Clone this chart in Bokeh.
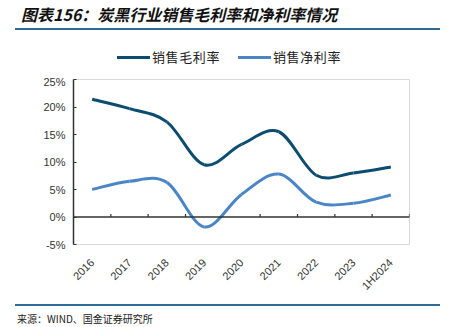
import math
from bokeh.plotting import figure
from bokeh.models import Range1d, FixedTicker, PrintfTickFormatter, Div, Span
from bokeh.layouts import column
from bokeh.embed import file_html
from bokeh.resources import INLINE

categories = ["2016", "2017", "2018", "2019", "2020", "2021", "2022", "2023", "1H2024"]
gross_margin = [21.4, 19.7, 17.3, 9.5, 13.2, 15.5, 7.6, 8.0, 9.1]
net_margin = [5.0, 6.5, 6.3, -1.8, 4.1, 7.8, 2.7, 2.5, 4.0]
y_ticks = [-5, 0, 5, 10, 15, 20, 25]
series_names = ["销售毛利率", "销售净利率"]
title_text = "图表156：炭黑行业销售毛利率和净利率情况"
source_text = "来源：WIND、国金证券研究所"

GROSS_COLOR = "#0b4d70"
NET_COLOR = "#4a86c6"
AXIS_COLOR = "#333333"


def bezier_segments(ys):
    xs = list(range(len(ys)))
    n = len(xs)
    out = {k: [] for k in ["x0", "y0", "x1", "y1", "cx0", "cy0", "cx1", "cy1"]}
    for i in range(n - 1):
        a = max(i - 1, 0)
        d = min(i + 2, n - 1)
        out["x0"].append(xs[i]); out["y0"].append(ys[i])
        out["x1"].append(xs[i + 1]); out["y1"].append(ys[i + 1])
        out["cx0"].append(xs[i] + (xs[i + 1] - xs[a]) / 6)
        out["cy0"].append(ys[i] + (ys[i + 1] - ys[a]) / 6)
        out["cx1"].append(xs[i + 1] - (xs[d] - xs[i]) / 6)
        out["cy1"].append(ys[i + 1] - (ys[d] - ys[i]) / 6)
    return out


TOP_H = 75
p = figure(width=454, height=300 - TOP_H, output_backend="svg", toolbar_location=None,
           x_range=Range1d(-0.5, len(categories) - 0.5), y_range=Range1d(y_ticks[0], y_ticks[-1]),
           min_border_left=73, min_border_right=45, min_border_top=79 - TOP_H, min_border_bottom=56)
p.background_fill_color = "white"
p.border_fill_color = "white"
p.outline_line_color = "#d9d9d9"
p.outline_line_width = 1
p.xgrid.visible = False
p.ygrid.visible = False

# zero line and category boundary ticks
p.add_layout(Span(location=0, dimension="width", line_color=AXIS_COLOR, line_width=1.5))
bounds = [i - 0.5 for i in range(len(categories) + 1)]
p.ray(x=bounds, y=[0] * len(bounds), length=3, length_units="screen", angle=math.pi / 2,
      line_color=AXIS_COLOR, line_width=1.2)

g = bezier_segments(gross_margin)
nt = bezier_segments(net_margin)
p.bezier(line_color=GROSS_COLOR, line_width=3, **g)
p.bezier(line_color=NET_COLOR, line_width=3, **nt)

# y axis
ya = p.yaxis[0]
ya.ticker = FixedTicker(ticks=y_ticks)
ya.formatter = PrintfTickFormatter(format="%d%%")
ya.axis_line_color = AXIS_COLOR
ya.axis_line_width = 1.5
ya.major_tick_in = 3
ya.major_tick_out = 0
ya.major_tick_line_color = AXIS_COLOR
ya.major_tick_line_width = 1.2
ya.minor_tick_line_color = None
ya.major_label_text_font = "Liberation Sans"
ya.major_label_text_font_size = "11px"
ya.major_label_text_color = "#333333"
ya.major_label_standoff = 8

# x axis
xa = p.xaxis[0]
xa.ticker = FixedTicker(ticks=list(range(len(categories))))
xa.major_label_overrides = {i: c for i, c in enumerate(categories)}
xa.axis_line_color = None
xa.major_tick_line_color = None
xa.minor_tick_line_color = None
xa.major_label_orientation = math.pi / 4
xa.major_label_text_font = "Liberation Sans"
xa.major_label_text_font_size = "11px"
xa.major_label_text_color = "#333333"
xa.major_label_standoff = 10


def legend_entry(x, color, label):
    return (
        f'<div style="position:absolute;left:{x}px;top:56px;width:33px;height:3px;background:{color};"></div>'
        f'<div style="position:absolute;left:{x + 35}px;top:48px;white-space:nowrap;'
        'font-family:\'Noto Sans CJK SC\';font-size:13px;line-height:18px;letter-spacing:0.6px;color:#222;">'
        f'{label}</div>'
    )


title_div = Div(width=454, height=TOP_H, margin=(0, 0, 0, 0), text=(
    f'<div style="position:relative;width:454px;height:{TOP_H}px;">'
    '<div style="position:absolute;left:21px;top:4px;white-space:nowrap;'
    'font-family:\'Noto Sans CJK SC\';font-style:italic;font-weight:bold;font-size:16px;'
    f'line-height:20px;color:#111;">{title_text}</div>'
    '<div style="position:absolute;left:15px;top:28px;width:425px;height:2px;background:#2e6b99;"></div>'
    + legend_entry(117, GROSS_COLOR, series_names[0])
    + legend_entry(238, NET_COLOR, series_names[1])
    + '</div>'))

foot_div = Div(width=454, height=27, margin=(0, 0, 0, 0), text=(
    '<div style="position:relative;width:454px;height:27px;">'
    '<div style="position:absolute;left:15px;top:4px;width:425px;height:2px;background:#2e6b99;"></div>'
    '<div style="position:absolute;left:17px;top:12px;white-space:nowrap;'
    'font-family:\'Noto Sans CJK SC\';font-size:10px;line-height:13px;color:#222;">'
    f'{source_text}</div>'
    '</div>'))

layout = column(title_div, p, foot_div, spacing=0, margin=(0, 0, 0, 0))

with open("out.html", "w") as f:
    f.write(file_html(layout, INLINE))
